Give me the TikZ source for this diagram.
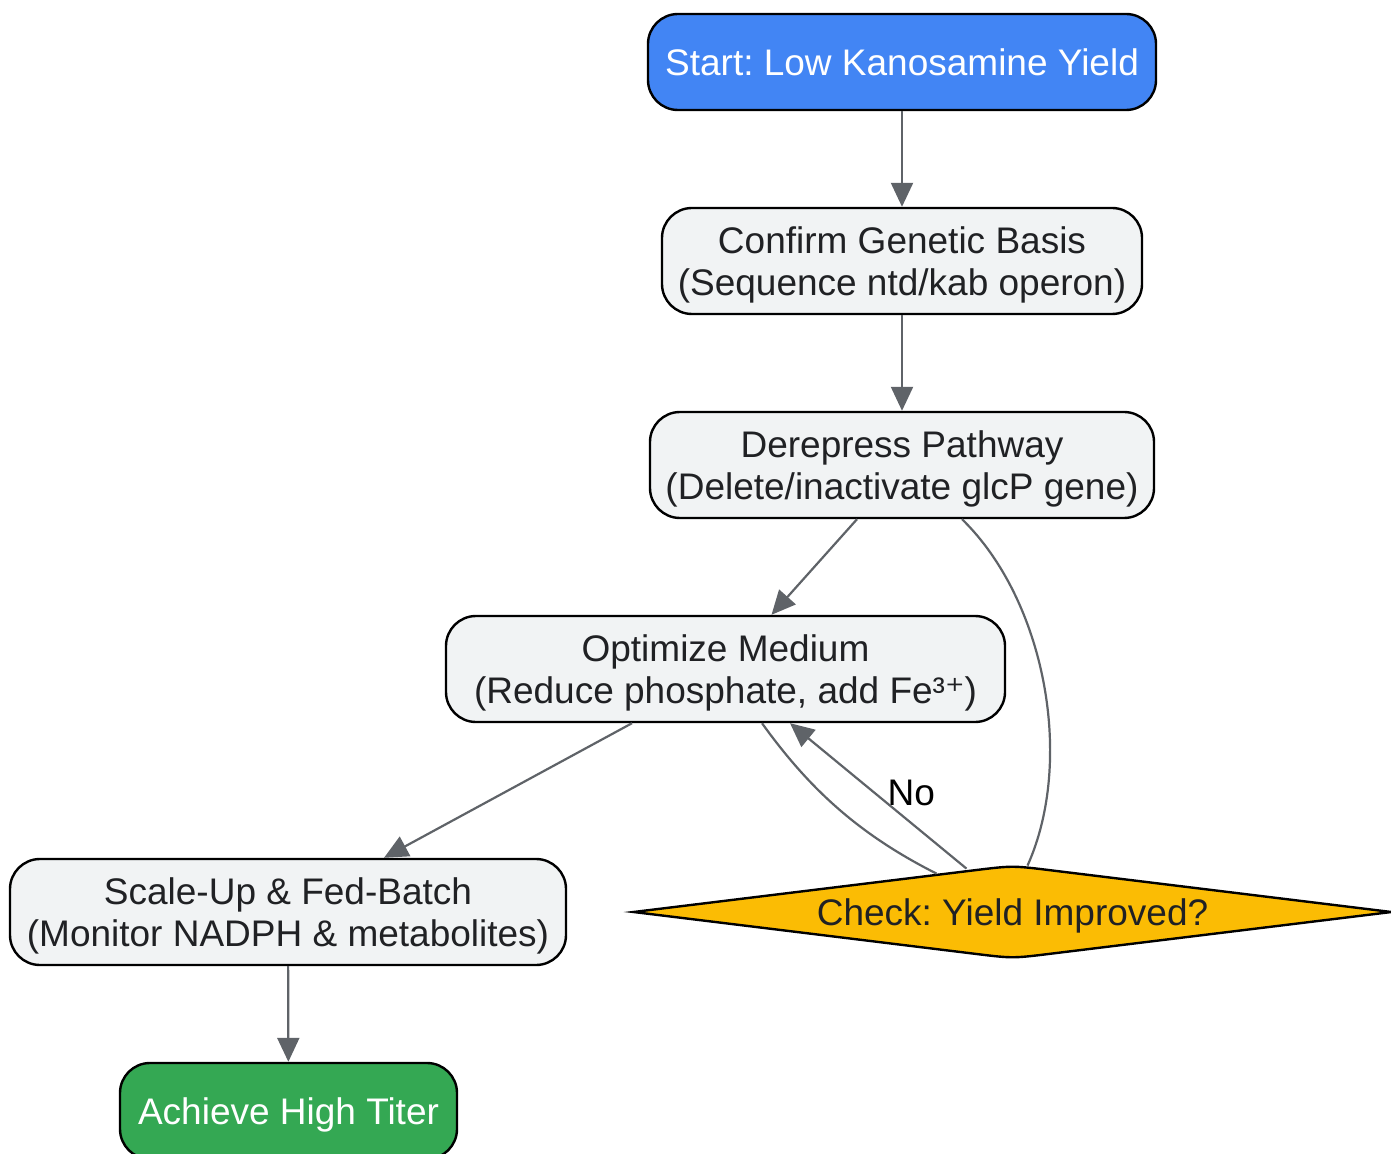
\documentclass[tikz,border=0pt]{standalone}
\usepackage{fontspec}
\setmainfont{Liberation Sans}
\newfontfamily\dejavu{DejaVu Sans}
\usetikzlibrary{arrows.meta,calc,backgrounds}
\definecolor{gblue}{HTML}{4285F4}
\definecolor{boxgray}{HTML}{F1F3F4}
\definecolor{gyellow}{HTML}{FBBC04}
\definecolor{ggreen}{HTML}{34A853}
\definecolor{edgegray}{HTML}{5F6368}
\definecolor{txt}{HTML}{202124}
\frenchspacing
\begin{document}
\begin{tikzpicture}[x=0.5pt,y=-0.5pt,
  box/.style={draw=black, line width=1.2pt, rounded corners=15pt, fill=boxgray, text=txt,
    align=center, font=\fontsize{18.5}{21}\selectfont, inner sep=0pt, text depth=0pt},
  edge/.style={draw=edgegray, line width=1.1pt},
  arr/.style={edge, -{Triangle[length=12pt,width=11pt]}},
  lbl/.style={font=\fontsize{18.5}{21}\selectfont, text=black, inner sep=0pt}]
\useasboundingbox (0,0) rectangle (1391,1154);

\node[box, fill=gblue, text=white, minimum width=254pt, minimum height=48pt] (start) at (902,62) {Start: Low Kanosamine Yield};
\node[box, minimum width=240pt, minimum height=53pt] (confirm) at (902,261) {Confirm Genetic Basis\\(Sequence ntd/kab operon)};
\node[box, minimum width=252pt, minimum height=53pt] (derepress) at (902,465) {Derepress Pathway\\(Delete/inactivate glcP gene)};
\node[box, minimum width=279.5pt, minimum height=53pt] (optimize) at (725.5,669) {Optimize Medium\\(Reduce phosphate, add Fe³{\dejavu ⁺})};
\node[box, minimum width=278pt, minimum height=53pt] (scaleup) at (288,912) {Scale-Up \& Fed-Batch\\(Monitor NADPH \& metabolites)};
\node[box, fill=ggreen, text=white, minimum width=168.5pt, minimum height=48pt] (achieve) at (288.5,1111) {Achieve High Titer};

\node[font=\fontsize{18.5}{21}\selectfont, text=txt, minimum width=378.5pt, minimum height=46pt, inner sep=0pt, text depth=0pt] (check) at (1012.5,912) {Check: Yield Improved?};
\begin{scope}[on background layer]
\filldraw[fill=gyellow, draw=black, line width=1.2pt]
  (check.west) -- ($(check.west)!0.9!(check.north)$) .. controls (check.north) .. ($(check.east)!0.9!(check.north)$)
  -- (check.east) -- ($(check.east)!0.9!(check.south)$) .. controls (check.south) .. ($(check.west)!0.9!(check.south)$) -- cycle;
\end{scope}

\draw[arr] (start) -- (confirm);
\draw[arr] (confirm) -- (derepress);
\draw[arr] ($(derepress.south)+(-45,0)$) -- ($(optimize.north)+(46,0)$);
\draw[arr] ($(optimize.south)+(-93.5,0)$) -- ($(scaleup.north)+(96,0)$);
\draw[arr] (scaleup) -- (achieve);
\draw[edge] ($(derepress.south)+(60,0)$) .. controls (1045,600) and (1075,760) .. ($(check.north)+(15,0)$);
\draw[edge] ($(optimize.south)+(36.5,0)$) .. controls (810,790) and (860,835) .. ($(check.north)+(-76,8)$);
\draw[arr] ($(check.north)+(-46,3)$) -- ($(optimize.south)+(64.5,0)$) node[lbl, pos=0.38, above right, xshift=-6.5pt, yshift=3pt] (no) {No};
\end{tikzpicture}
\end{document}
